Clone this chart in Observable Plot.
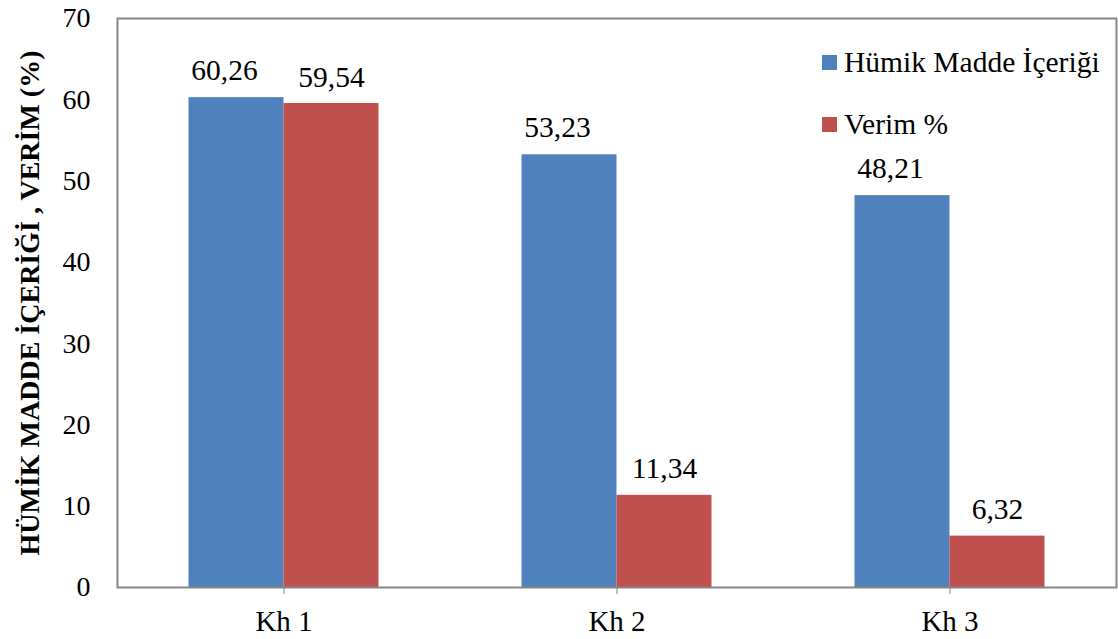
<!DOCTYPE html>
<html><head><meta charset="utf-8">
<script src="https://cdn.jsdelivr.net/npm/d3@7"></script>
<script src="https://cdn.jsdelivr.net/npm/@observablehq/plot@0.6"></script>
<style>
body{margin:0;background:#fff;}
#wrap{position:relative;width:1118px;height:639px;font-family:"Times New Roman","Liberation Serif",serif;}
#wrap svg [aria-label="y-axis label"] text{font-weight:bold;}
.leg{position:absolute;left:822px;font-size:29.5px;line-height:29px;color:#000;white-space:nowrap;display:flex;align-items:center;}
.leg span.sw{display:inline-block;width:15px;height:15px;margin-right:7px;}
</style></head><body><div id="wrap"></div>
<script>
const categories = ["Kh 1", "Kh 2", "Kh 3"];
const seriesNames = ["Hümik Madde İçeriği", "Verim %"];
const humik = [60.26, 53.23, 48.21];
const verim = [59.54, 11.34, 6.32];
const colors = ["#4F81BD", "#C0504D"];
const yTicks = [0, 10, 20, 30, 40, 50, 60, 70];
const yTitle = "HÜMİK MADDE İÇERİĞİ , VERİM (%)";

const W = 1118, H = 639;
const mL = 117, mR = 2, mT = 18, mB = 52;
const band = (W - mL - mR) / categories.length;
const barW = 95;

const humikRows = categories.map((c, i) => ({cat: c, value: humik[i]}));
const verimRows = categories.map((c, i) => ({cat: c, value: verim[i]}));
const fmtV = v => String(v).replace(".", ",");

const chart = Plot.plot({
  width: W, height: H,
  marginLeft: mL, marginRight: mR, marginTop: mT, marginBottom: mB,
  style: {fontFamily: '"Times New Roman","Liberation Serif",serif', fontSize: "28px", color: "#000", background: "#fff"},
  x: {domain: categories, padding: 0, label: null},
  y: {domain: [0, 70], label: null},
  marks: [
    Plot.barY(humikRows, {x: "cat", y: "value", fill: colors[0], insetLeft: band / 2 - barW, insetRight: band / 2}),
    Plot.barY(verimRows, {x: "cat", y: "value", fill: colors[1], insetLeft: band / 2, insetRight: band / 2 - barW}),
    Plot.text(humikRows, {x: "cat", y: "value", text: d => fmtV(d.value), dx: -barW / 2 - 12, dy: -18, lineAnchor: "bottom", fill: "#000", fontSize: 29.5}),
    Plot.text(verimRows, {x: "cat", y: "value", text: d => fmtV(d.value), dx: barW / 2, dy: -17, lineAnchor: "bottom", fill: "#000", fontSize: 29.5}),
    Plot.frame({stroke: "#868686", strokeWidth: 2}),
    Plot.axisY({ticks: yTicks, tickSize: 0, tickPadding: 27, label: yTitle, labelArrow: "none", labelAnchor: "center", labelOffset: 98}),
    Plot.axisX({tickSize: 7, tickPadding: 16, stroke: "#868686", label: null, fontSize: 29})
  ]
});
chart.querySelectorAll('[aria-label="x-axis tick label"] text, [aria-label="y-axis tick label"] text').forEach(t => t.setAttribute("fill", "#000"));
const wrap = document.getElementById("wrap");
wrap.appendChild(chart);

const legTops = [48, 110];
seriesNames.forEach((s, i) => {
  const d = document.createElement("div");
  d.className = "leg";
  d.style.top = legTops[i] + "px";
  d.innerHTML = `<span class="sw" style="background:${colors[i]}"></span><span>${s}</span>`;
  wrap.appendChild(d);
});
</script></body></html>
